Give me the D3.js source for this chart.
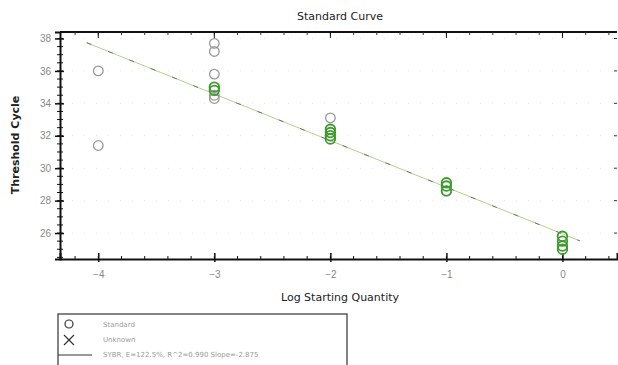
<!DOCTYPE html>
<html>
<head>
<meta charset="utf-8">
<script src="https://cdn.jsdelivr.net/npm/d3@7"></script>
<style>
body { margin:0; background:#fff; }
svg { font-family: "DejaVu Sans", sans-serif; }
</style>
</head>
<body>
<div id="chart"></div>
<script>
// standard wells used in the fit (green)
var usedX = [-3, -3, -2, -2, -2, -2, -1, -1, -1, 0, 0, 0, 0];
var usedY = [35.0, 34.8, 32.4, 32.2, 32.0, 31.8, 29.1, 28.9, 28.6, 25.8, 25.5, 25.2, 25.0];
// standard wells left out of the fit (grey)
var outX = [-4, -4, -3, -3, -3, -3, -3, -2, -1];
var outY = [36.0, 31.4, 37.7, 37.2, 35.8, 34.5, 34.3, 33.1, 28.6];
// regression
var slope = -2.875, intercept = 25.95;
var fitX = [-4.1, 0.15];
var xTicks = [-4, -3, -2, -1, 0];
var yTicks = [26, 28, 30, 32, 34, 36, 38];
var legendLabels = ["Standard", "Unknown", "SYBR, E=122.5%, R^2=0.990 Slope=-2.875"];

var width = 618, height = 365;
var m = {left: 60, top: 32, right: 617, bottom: 259};

var svg = d3.select("#chart").append("svg")
	.attr("width", width)
	.attr("height", height);

var x = d3.scaleLinear().domain([-4.33, 0.47]).range([m.left, m.right]);
var y = d3.scaleLinear().domain([24.4, 38.4]).range([m.bottom, m.top]);

// title and axis labels
svg.append("text").attr("x", 340).attr("y", 20).attr("text-anchor", "middle")
	.attr("font-size", 11).attr("fill", "#222").text("Standard Curve");
svg.append("text").attr("x", 340).attr("y", 301).attr("text-anchor", "middle")
	.attr("font-size", 11).attr("fill", "#222").text("Log Starting Quantity");
svg.append("text").attr("transform", "translate(19,145) rotate(-90)").attr("text-anchor", "middle")
	.attr("font-size", 11).attr("font-weight", "bold").attr("fill", "#222").text("Threshold Cycle");

// faint grid dots
svg.append("g").selectAll("line").data(yTicks).enter().append("line")
	.attr("x1", m.left).attr("x2", m.right)
	.attr("y1", function(d){ return y(d); }).attr("y2", function(d){ return y(d); })
	.attr("stroke", "#e4e4e4").attr("stroke-width", 1).attr("stroke-dasharray", "1,11");

// axes
var bottom = svg.append("g").attr("transform", "translate(0," + m.bottom + ")")
	.call(d3.axisBottom(x).tickValues(xTicks).tickFormat(d3.format("d")).tickSize(-6).tickPadding(12));
var left = svg.append("g").attr("transform", "translate(" + m.left + ",0)")
	.call(d3.axisLeft(y).tickValues(yTicks).tickFormat(d3.format("d")).tickSize(5).tickPadding(4));
[bottom, left].forEach(function(g){
	g.select(".domain").attr("stroke", "#111").attr("stroke-width", 2);
	g.selectAll(".tick line").attr("stroke", "#111").attr("stroke-width", 1.5);
	g.selectAll(".tick text").attr("fill", "#888").attr("font-size", 10);
});
left.selectAll(".tick line").attr("x1", 4).attr("x2", -5);
bottom.selectAll(".tick line").attr("y1", 3).attr("y2", -6);

// minor ticks
svg.append("g").selectAll("line").data(d3.range(-4.2, 0.5, 0.2)).enter().append("line")
	.attr("x1", function(d){ return x(d); }).attr("x2", function(d){ return x(d); })
	.attr("y1", m.bottom + 1).attr("y2", m.bottom - 3).attr("stroke", "#111");
svg.append("g").selectAll("line").data(d3.range(24.5, 38.5, 0.5)).enter().append("line")
	.attr("x1", m.left - 3).attr("x2", m.left + 3)
	.attr("y1", function(d){ return y(d); }).attr("y2", function(d){ return y(d); }).attr("stroke", "#111");

// top and right frame with inward ticks
svg.append("line").attr("x1", m.left).attr("x2", m.right).attr("y1", m.top).attr("y2", m.top)
	.attr("stroke", "#111").attr("stroke-width", 2);
svg.append("g").selectAll("line").data(d3.range(-4.2, 0.5, 0.2)).enter().append("line")
	.attr("x1", function(d){ return x(d); }).attr("x2", function(d){ return x(d); })
	.attr("y1", m.top).attr("y2", m.top + 3).attr("stroke", "#333");
svg.append("g").selectAll("line").data(xTicks).enter().append("line")
	.attr("x1", function(d){ return x(d); }).attr("x2", function(d){ return x(d); })
	.attr("y1", m.top).attr("y2", m.top + 6).attr("stroke", "#111");
svg.append("g").selectAll("line").data(yTicks).enter().append("line")
	.attr("x1", m.right - 3).attr("x2", m.right)
	.attr("y1", function(d){ return y(d); }).attr("y2", function(d){ return y(d); }).attr("stroke", "#333");

// regression line
var line = d3.line().x(function(d){ return x(d); }).y(function(d){ return y(intercept + slope * d); });
svg.append("path").datum(fitX).attr("d", line)
	.attr("fill", "none").attr("stroke", "#b5d08a").attr("stroke-width", 1);
svg.append("path").datum(fitX).attr("d", line)
	.attr("fill", "none").attr("stroke", "#555").attr("stroke-width", 0.8).attr("stroke-dasharray", "5,18");

// points
svg.append("g").selectAll("circle").data(outX).enter().append("circle")
	.attr("cx", function(d){ return x(d); })
	.attr("cy", function(d, i){ return y(outY[i]); })
	.attr("r", 4.8).attr("fill", "none").attr("stroke", "#999").attr("stroke-width", 1.3);
svg.append("g").selectAll("circle").data(usedX).enter().append("circle")
	.attr("cx", function(d){ return x(d); })
	.attr("cy", function(d, i){ return y(usedY[i]); })
	.attr("r", 4.8).attr("fill", "none").attr("stroke", "#3f9a2e").attr("stroke-width", 1.8);

// legend
var lg = svg.append("g");
lg.append("rect").attr("x", 58).attr("y", 314).attr("width", 289).attr("height", 60)
	.attr("fill", "none").attr("stroke", "#333").attr("stroke-width", 1.2);
lg.append("circle").attr("cx", 69).attr("cy", 324).attr("r", 4).attr("fill", "none").attr("stroke", "#333").attr("stroke-width", 1.2);
lg.append("path").attr("d", "M64,335L74,345M74,335L64,345").attr("stroke", "#333").attr("stroke-width", 1.2);
lg.append("line").attr("x1", 58).attr("x2", 92).attr("y1", 355).attr("y2", 355).attr("stroke", "#333");
lg.selectAll("text").data(legendLabels).enter().append("text")
	.attr("x", 103).attr("y", function(d, i){ return 327 + i * 15; })
	.attr("font-size", 7).attr("fill", "#999").text(function(d){ return d; });
</script>
</body>
</html>
